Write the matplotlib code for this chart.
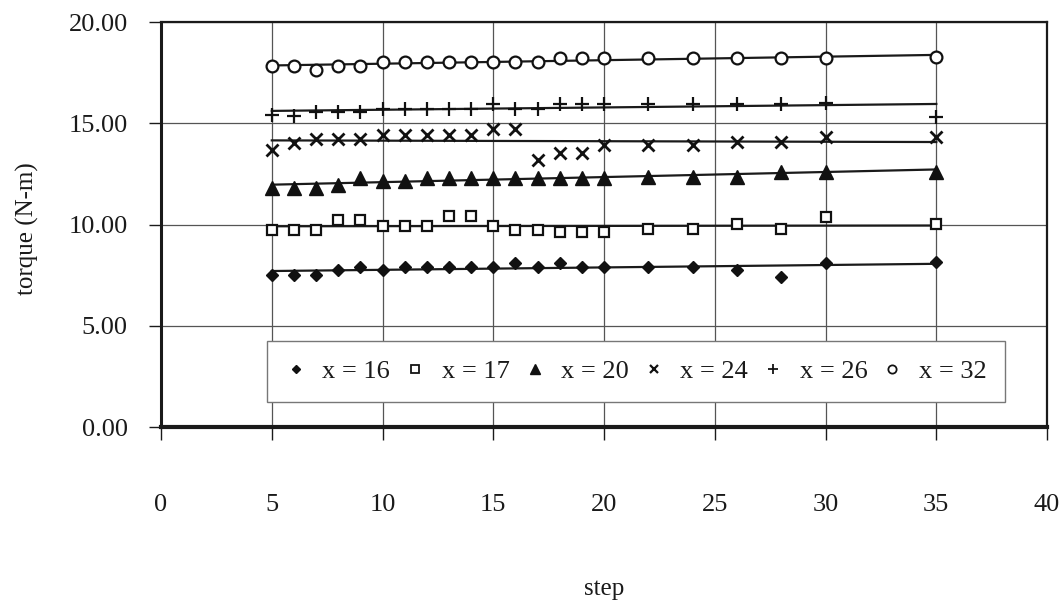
import numpy as np
import matplotlib
matplotlib.use("Agg")
import matplotlib.pyplot as plt
from matplotlib.lines import Line2D

plt.rcParams["font.family"] = ["Liberation Serif", "DejaVu Serif"]

# Measured torque per step for each x setting
steps = [5, 6, 7, 8, 9, 10, 11, 12, 13, 14, 15, 16, 17, 18, 19, 20, 22, 24, 26, 28, 30, 35]

torque_x16 = [7.50, 7.50, 7.50, 7.75, 7.88, 7.75, 7.88, 7.88, 7.88, 7.88, 7.88,
              8.12, 7.88, 8.12, 7.88, 7.92, 7.92, 7.92, 7.75, 7.42, 8.12, 8.17]
torque_x17 = [9.72, 9.72, 9.72, 10.23, 10.23, 9.93, 9.93, 9.93, 10.43, 10.43, 9.93,
              9.74, 9.74, 9.64, 9.64, 9.64, 9.80, 9.80, 10.01, 9.80, 10.38, 10.01]
torque_x20 = [11.78, 11.78, 11.78, 11.94, 12.32, 12.14, 12.14, 12.32, 12.32, 12.32, 12.32,
              12.32, 12.32, 12.32, 12.32, 12.32, 12.37, 12.37, 12.37, 12.60, 12.60, 12.60]
torque_x24 = [13.68, 14.01, 14.21, 14.21, 14.21, 14.41, 14.41, 14.41, 14.41, 14.41, 14.74,
              14.74, 13.19, 13.55, 13.55, 13.91, 13.91, 13.91, 14.08, 14.08, 14.34, 14.34]
torque_x26 = [15.41, 15.36, 15.57, 15.57, 15.57, 15.72, 15.72, 15.72, 15.72, 15.72, 15.93,
              15.72, 15.72, 15.95, 15.95, 15.93, 15.93, 15.93, 15.95, 15.95, 15.98, 15.33]
torque_x32 = [17.83, 17.85, 17.63, 17.85, 17.85, 18.04, 18.04, 18.04, 18.04, 18.04, 18.04,
              18.04, 18.04, 18.20, 18.20, 18.20, 18.20, 18.20, 18.20, 18.22, 18.22, 18.27]

series_labels = ["x = 16", "x = 17", "x = 20", "x = 24", "x = 26", "x = 32"]
x_ticks = [0, 5, 10, 15, 20, 25, 30, 35, 40]
y_ticks = [0, 5, 10, 15, 20]

series = [torque_x16, torque_x17, torque_x20, torque_x24, torque_x26, torque_x32]
styles = [
    dict(marker="D", ms=6.5, mfc="#111111", mec="#111111", mew=1.0),
    dict(marker="s", ms=7.5, mfc="white", mec="#111111", mew=1.6),
    dict(marker="^", ms=9.5, mfc="#111111", mec="#111111", mew=1.0),
    dict(marker="x", ms=8.5, mfc="none", mec="#111111", mew=2.0),
    dict(marker="+", ms=9.5, mfc="none", mec="#111111", mew=1.6),
    dict(marker="o", ms=8.5, mfc="white", mec="#111111", mew=1.6),
]

ink = "#1a1a1a"
fig = plt.figure(figsize=(10.63, 6.05), dpi=100)
ax = fig.add_axes([0.1515, 0.2942, 0.8335, 0.6694])

xs = np.array(steps, dtype=float)
handles = []
for vals, st, lab in zip(series, styles, series_labels):
    ys = np.array(vals)
    # linear trend line across the measured steps
    k, b = np.polyfit(xs, ys, 1)
    xfit = np.array([xs.min(), xs.max()])
    ax.plot(xfit, k * xfit + b, color=ink, lw=1.6, zorder=3)
    ax.plot(xs, ys, ls="none", zorder=4, **st)
    hs = dict(st)
    hs["ms"] = st["ms"] * 0.7
    hs["mew"] = max(1.0, st["mew"] * 0.8)
    handles.append(Line2D([], [], ls="none", label=lab, **hs))

ax.set_xlim(0, 40)
ax.set_ylim(0, 20)
ax.set_xticks(x_ticks)
ax.set_yticks(y_ticks)
ax.set_yticklabels([f"{v:.2f}" for v in y_ticks])

ax.grid(True, color="#555555", lw=0.9)
ax.set_axisbelow(True)

for side in ["top", "right"]:
    ax.spines[side].set_linewidth(1.6)
    ax.spines[side].set_color(ink)
ax.spines["left"].set_linewidth(2.2)
ax.spines["bottom"].set_linewidth(3.0)
ax.spines["left"].set_color(ink)
ax.spines["bottom"].set_color(ink)

ax.tick_params(axis="x", direction="out", length=9, width=1.0, color=ink,
               pad=39, labelsize=19, labelcolor=ink)
ax.tick_params(axis="y", direction="out", length=9, width=1.0, color=ink,
               pad=15, labelsize=19, labelcolor=ink)

ax.set_xlabel("step", fontsize=18, color=ink)
ax.set_ylabel("torque (N-m)", fontsize=18, color=ink)
ax.xaxis.set_label_coords(0.5, -0.373)
ax.yaxis.set_label_coords(-0.138, 0.491)

leg = ax.legend(handles=handles, ncol=6, loc="center",
                bbox_to_anchor=(0.1196, 0.0567, 0.833, 0.16), mode="expand",
                borderaxespad=0, fontsize=19, frameon=True, fancybox=False,
                handlelength=0.8, handletextpad=0.6, columnspacing=0.8,
                borderpad=0.7)
leg.get_frame().set_edgecolor("#777777")
leg.get_frame().set_linewidth(1.0)
leg.get_frame().set_facecolor("white")
leg.get_frame().set_alpha(1.0)
for t in leg.get_texts():
    t.set_color(ink)

fig.savefig("out.png", dpi=100, facecolor="white")
